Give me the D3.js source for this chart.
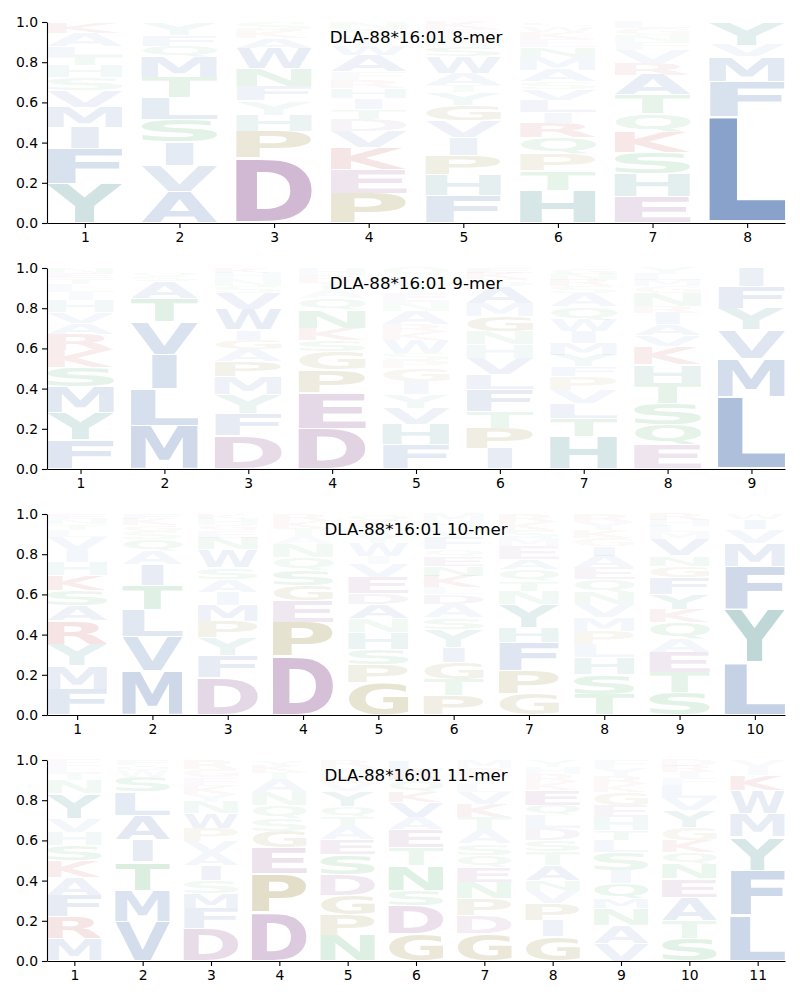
<!DOCTYPE html>
<html><head><meta charset="utf-8">
<script src="https://cdn.jsdelivr.net/npm/d3@7"></script>
<style>body{margin:0;background:#fff} svg text{font-family:"DejaVu Sans",sans-serif}</style>
</head><body><svg id="c" width="800" height="1000"></svg>
<script>
// ---- data: each position is a stack of [letter, probability], listed bottom to top ----
const titles = ["DLA-88*16:01 8-mer","DLA-88*16:01 9-mer","DLA-88*16:01 10-mer","DLA-88*16:01 11-mer"];

const mer8 = [
  [["Y",.194],["F",.174],["I",.108],["M",.101],["V",.083],["S",.063],["H",.063],["T",.046],["L",.048],["A",.066],["K",.054]],
  [["A",.158],["V",.128],["I",.116],["S",.111],["L",.109],["T",.101],["M",.1],["Q",.058],["F",.051],["Y",.063],["W",.005]],
  [["D",.322],["P",.136],["H",.08],["Y",.07],["F",.071],["N",.091],["W",.1],["A",.05],["K",.041],["S",.039]],
  [["P",.148],["E",.119],["K",.108],["V",.08],["D",.063],["T",.05],["I",.053],["H",.05],["R",.041],["F",.041],["A",.083],["W",.05],["Y",.04],["S",.04],["N",.034]],
  [["F",.139],["H",.103],["P",.096],["I",.086],["V",.083],["G",.08],["Y",.063],["T",.036],["A",.058],["W",.083],["S",.05],["N",.045],["E",.04],["K",.038]],
  [["H",.164],["T",.095],["P",.083],["Q",.083],["R",.071],["I",.055],["L",.061],["V",.055],["S",.036],["A",.058],["M",.066],["N",.05],["E",.04],["K",.035],["W",.025],["G",.023]],
  [["E",.131],["H",.116],["S",.104],["K",.1],["Q",.093],["T",.093],["A",.1],["R",.058],["V",.066],["F",.04],["N",.035],["G",.034],["L",.03]],
  [["L",.529],["F",.174],["M",.124],["V",.058],["Y",.115]]
];

const mer9 = [
  [["F",.144],["Y",.136],["M",.129],["S",.096],["K",.086],["R",.08],["A",.056],["V",.055],["H",.058],["I",.04],["L",.04],["T",.03],["E",.025],["N",.025]],
  [["M",.216],["L",.181],["I",.171],["V",.166],["T",.116],["A",.083],["S",.025],["Q",.022],["F",.02]],
  [["D",.166],["F",.108],["Y",.095],["M",.091],["P",.075],["A",.058],["G",.05],["I",.05],["W",.1],["V",.083],["S",.035],["N",.035],["H",.03],["K",.024]],
  [["D",.202],["E",.177],["P",.113],["G",.091],["S",.058],["K",.058],["N",.091],["Q",.058],["A",.04],["T",.04],["R",.036],["H",.036]],
  [["F",.12],["H",.1],["V",.083],["Y",.066],["I",.066],["G",.066],["P",.04],["S",.033],["W",.066],["K",.04],["R",.04],["A",.066],["N",.045],["E",.045],["T",.045],["L",.04],["Q",.039]],
  [["I",.103],["P",.1],["T",.083],["F",.108],["L",.075],["V",.083],["H",.066],["N",.066],["G",.075],["M",.066],["A",.083],["S",.035],["K",.03],["E",.027]],
  [["H",.161],["T",.091],["L",.075],["V",.066],["P",.066],["F",.05],["Y",.058],["M",.058],["I",.058],["W",.058],["Q",.066],["A",.066],["S",.035],["R",.032],["N",.03],["G",.03]],
  [["E",.12],["Q",.1],["S",.108],["T",.1],["H",.091],["K",.091],["V",.053],["A",.055],["I",.058],["R",.033],["N",.066],["G",.035],["M",.03],["L",.03],["Y",.03]],
  [["L",.36],["M",.191],["V",.141],["Y",.108],["F",.108],["I",.092]]
];

const mer10 = [
  [["F",.128],["M",.116],["Y",.108],["R",.116],["A",.075],["S",.075],["K",.075],["H",.066],["I",.058],["V",.066],["L",.035],["T",.03],["N",.027],["E",.025]],
  [["M",.219],["V",.171],["L",.133],["T",.123],["I",.104],["A",.066],["Q",.058],["S",.04],["G",.03],["K",.03],["F",.026]],
  [["D",.186],["F",.108],["Y",.091],["P",.083],["M",.078],["I",.066],["A",.063],["S",.058],["W",.091],["N",.058],["E",.035],["G",.03],["H",.03],["K",.023]],
  [["D",.29],["P",.169],["E",.108],["G",.075],["S",.075],["Q",.066],["N",.066],["A",.04],["T",.04],["K",.036],["R",.035]],
  [["G",.161],["P",.091],["S",.075],["H",.083],["N",.07],["A",.071],["D",.055],["E",.078],["V",.066],["I",.04],["W",.066],["Y",.04],["T",.036],["K",.034],["Q",.034]],
  [["P",.095],["T",.083],["G",.083],["I",.075],["Y",.091],["S",.058],["A",.066],["D",.05],["L",.033],["K",.058],["N",.05],["E",.05],["Q",.033],["F",.058],["V",.04],["H",.04],["M",.037]],
  [["G",.103],["P",.116],["F",.141],["H",.075],["Y",.116],["N",.066],["T",.05],["Q",.058],["A",.05],["E",.066],["M",.04],["S",.04],["K",.04],["R",.039]],
  [["T",.103],["S",.1],["H",.083],["L",.066],["P",.066],["M",.066],["V",.066],["N",.058],["Q",.066],["E",.058],["A",.058],["I",.05],["G",.04],["K",.04],["Y",.04],["R",.04]],
  [["S",.111],["T",.1],["E",.1],["A",.066],["Q",.083],["K",.066],["Y",.075],["F",.083],["G",.058],["N",.05],["V",.083],["M",.035],["L",.03],["H",.03],["R",.03]],
  [["L",.26],["Y",.262],["F",.216],["M",.116],["V",.07],["I",.05],["W",.026]]
];

const mer11 = [
  [["M",.111],["R",.108],["F",.108],["A",.091],["K",.083],["S",.075],["H",.066],["V",.066],["Y",.124],["N",.066],["T",.035],["L",.035],["E",.032]],
  [["V",.194],["M",.158],["T",.141],["I",.108],["A",.124],["L",.116],["S",.075],["W",.03],["Q",.028],["F",.026]],
  [["D",.161],["F",.1],["M",.075],["S",.066],["I",.075],["A",.058],["V",.058],["P",.066],["W",.075],["N",.058],["Y",.04],["K",.04],["E",.04],["G",.044],["R",.044]],
  [["D",.24],["P",.194],["E",.128],["G",.083],["S",.063],["Q",.066],["N",.066],["A",.066],["T",.035],["K",.03],["Y",.029]],
  [["N",.128],["P",.1],["G",.1],["D",.1],["S",.1],["E",.075],["A",.066],["T",.05],["Q",.05],["Y",.075],["V",.04],["K",.04],["H",.04],["R",.036]],
  [["G",.136],["D",.14],["S",.075],["N",.124],["T",.09],["E",.09],["A",.058],["V",.075],["K",.055],["Q",.055],["R",.052],["L",.05]],
  [["G",.136],["D",.091],["P",.083],["N",.083],["E",.075],["Q",.058],["S",.058],["A",.066],["T",.066],["K",.066],["V",.058],["L",.04],["I",.04],["R",.04],["M",.04]],
  [["G",.12],["I",.083],["P",.083],["V",.066],["N",.05],["A",.075],["T",.066],["S",.058],["D",.058],["L",.066],["Q",.05],["E",.075],["K",.04],["R",.04],["H",.035],["Y",.035]],
  [["V",.086],["A",.091],["N",.083],["M",.05],["Q",.075],["I",.066],["S",.091],["L",.058],["T",.05],["H",.066],["E",.058],["G",.066],["K",.04],["R",.04],["Y",.04],["F",.04]],
  [["S",.111],["T",.091],["A",.116],["E",.091],["N",.075],["Q",.058],["K",.058],["G",.066],["Y",.083],["V",.058],["L",.066],["F",.035],["I",.032],["R",.03],["D",.03]],
  [["L",.227],["F",.224],["Y",.166],["M",.116],["W",.116],["K",.075],["I",.041],["V",.035]]
];

const panels = [mer8, mer9, mer10, mer11];
const yTicks = [0, 0.2, 0.4, 0.6, 0.8, 1.0];

// colour groups
const groupColor = {
  hydrophobic: "#4c72b0", aromaticPolar: "#3d8787", acidic: "#8c5091",
  special: "#877820", basic: "#be3c3c", polar: "#32a050"
};
const groups = {
  hydrophobic: "AVLIMFWC", aromaticPolar: "YH", acidic: "DE",
  special: "PG", basic: "KR", polar: "STNQ"
};
const letterColor = {};
Object.entries(groups).forEach(([g, s]) => s.split("").forEach(ch => letterColor[ch] = groupColor[g]));

// ---- drawing ----
const svg = d3.select("#c");
const LEFT = 47, RIGHT = 785, PH = 201, STEP = 246, TOP0 = 22;
const WIDTH = 0.8, VPAD = 0.05;
const ctx = document.createElement("canvas").getContext("2d");
ctx.font = "bold 100px 'DejaVu Sans'";
const cache = {};
function glyphBox(ch) {
  if (!cache[ch]) {
    const m = ctx.measureText(ch);
    cache[ch] = {l: m.actualBoundingBoxLeft, r: m.actualBoundingBoxRight,
                 a: m.actualBoundingBoxAscent, d: m.actualBoundingBoxDescent};
  }
  return cache[ch];
}
const refW = (() => { const b = glyphBox("E"); return b.l + b.r; })();

panels.forEach((data, i) => {
  const top = TOP0 + STEP * i, bottom = top + PH;
  const n = data.length;
  const x = d3.scaleLinear().domain([0.6, n + 0.4]).range([LEFT, RIGHT]);
  const y = d3.scaleLinear().domain([0, 1]).range([bottom, top]);
  const g = svg.append("g");

  data.forEach((stack, pi) => {
    const pos = pi + 1;
    let cum = 0;
    stack.forEach(([ch, v]) => {
      const y0 = cum, y1 = cum + v;
      cum = y1;
      const pad = v * VPAD / 2;
      const px0 = x(pos - WIDTH / 2), px1 = x(pos + WIDTH / 2);
      const py0 = y(y1 - pad), py1 = y(y0 + pad);
      const b = glyphBox(ch);
      const gw = b.l + b.r;
      const boxW = px1 - px0;
      // do not stretch narrow glyphs more than the letter E would be stretched
      const sx = Math.min(boxW / gw, boxW / refW);
      const sy = (py1 - py0) / (b.a + b.d);
      const cx = (px0 + px1) / 2 - gw * sx / 2;
      g.append("text")
        .attr("transform", `translate(${cx},${py0}) scale(${sx},${sy}) translate(${b.l},${b.a})`)
        .attr("font-size", 100).attr("font-weight", "bold")
        .attr("fill", letterColor[ch])
        .attr("fill-opacity", Math.min(1, v * 1.25))
        .text(ch);
    });
  });

  const ya = svg.append("g").attr("transform", `translate(${LEFT},0)`)
    .call(d3.axisLeft(y).tickValues(yTicks).tickFormat(d3.format(".1f")).tickSize(5).tickSizeOuter(0).tickPadding(4));
  const xa = svg.append("g").attr("transform", `translate(0,${bottom})`)
    .call(d3.axisBottom(x).tickValues(d3.range(1, n + 1)).tickFormat(d3.format("d")).tickSize(5).tickSizeOuter(0).tickPadding(4));
  [ya, xa].forEach(a => {
    a.selectAll("text").attr("font-size", 13.9).attr("font-family", "DejaVu Sans").attr("fill", "#000");
    a.selectAll("line").attr("stroke", "#000").attr("stroke-width", 1.1);
    a.select(".domain").attr("stroke", "#000").attr("stroke-width", 1.1);
  });

  svg.append("text").attr("x", (LEFT + RIGHT) / 2).attr("y", top + 21)
    .attr("text-anchor", "middle").attr("font-size", 16.7).attr("fill", "#000")
    .text(titles[i]);
});
</script></body></html>
